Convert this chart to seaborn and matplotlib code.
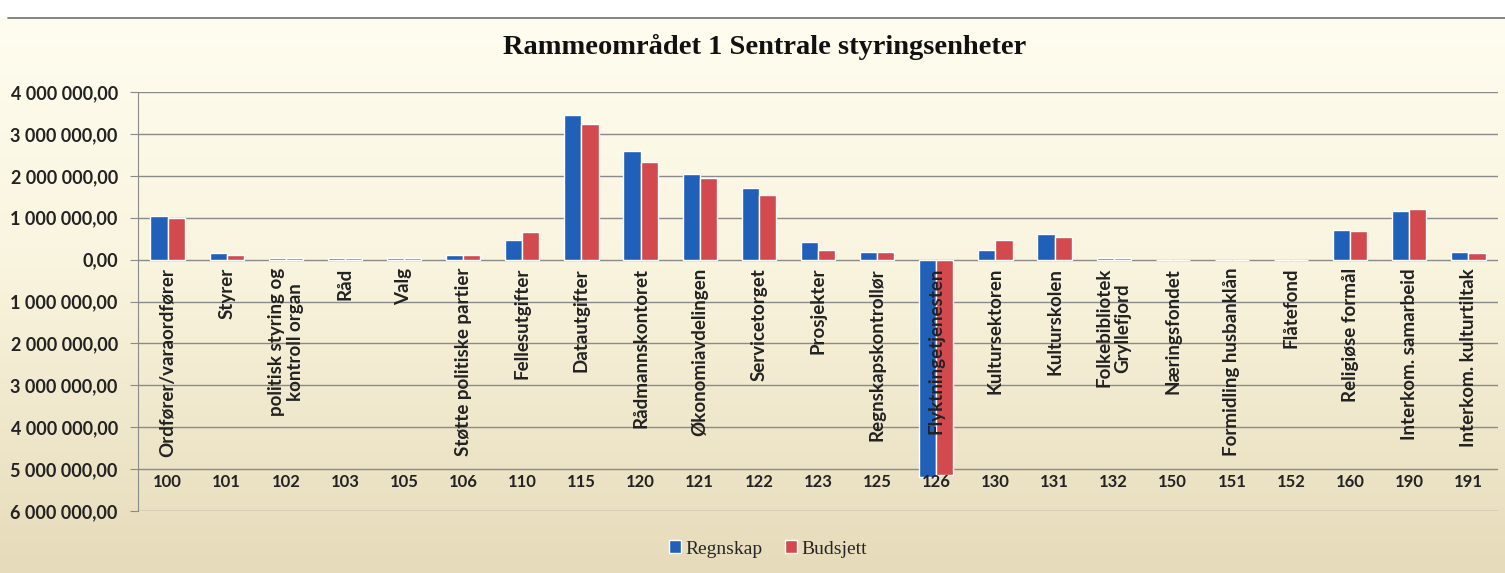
import numpy as np
import pandas as pd
import seaborn as sns
import matplotlib.pyplot as plt
from matplotlib.patches import Patch

# Data (NOK)
codes = ["100", "101", "102", "103", "105", "106", "110", "115", "120", "121",
         "122", "123", "125", "126", "130", "131", "132", "150", "151", "152",
         "160", "190", "191"]
names = ["Ordfører/varaordfører", "Styrer", "politisk styring og\nkontroll organ",
         "Råd", "Valg", "Støtte politiske partier", "Fellesutgifter", "Datautgifter",
         "Rådmannskontoret", "Økonomiavdelingen", "Servicetorget", "Prosjekter",
         "Regnskapskontrollør", "Flyktningetjenesten", "Kultursektoren", "Kulturskolen",
         "Folkebibliotek\nGryllefjord", "Næringsfondet", "Formidling husbanklån",
         "Flåtefond", "Religiøse formål", "Interkom. samarbeid", "Interkom. kulturtiltak"]
regnskap = [1030000, 150000, 30000, 30000, 50000, 110000, 460000, 3460000, 2580000,
            2050000, 1710000, 410000, 180000, -5180000, 220000, 620000, 40000, 0, 0, 0,
            700000, 1170000, 170000]
budsjett = [990000, 120000, 30000, 30000, 45000, 100000, 670000, 3230000, 2320000,
            1940000, 1550000, 240000, 170000, -5130000, 460000, 540000, 40000, 0, 0, 0,
            680000, 1200000, 160000]
series = ["Regnskap", "Budsjett"]
yticks = [4e6, 3e6, 2e6, 1e6, 0, -1e6, -2e6, -3e6, -4e6, -5e6, -6e6]

df = pd.DataFrame({
    "kode": codes * 2,
    "verdi": regnskap + budsjett,
    "serie": [series[0]] * len(codes) + [series[1]] * len(codes),
})

blue = "#2060b8"
red = "#d24a4e"

sns.set_style("white")
plt.rcParams["font.family"] = ["Lato", "DejaVu Sans"]

fig = plt.figure(figsize=(15.05, 5.73), dpi=100)

# scanned-paper style background: white margin, then cream -> beige gradient
bg = fig.add_axes([0, 0, 1, 1], zorder=-10)
bg.set_axis_off()
h = 573
top_c = np.array([255, 253, 240]) / 255
mid_c = np.array([249, 244, 222]) / 255
bot_c = np.array([230, 219, 186]) / 255
grad = np.ones((h, 1, 3))
for r in range(h):
    if r < 18:
        continue
    t = (r - 18) / (h - 18)
    if t < 0.45:
        c = top_c + (mid_c - top_c) * (t / 0.45)
    else:
        c = mid_c + (bot_c - mid_c) * ((t - 0.45) / 0.55)
    grad[r, 0] = c
bg.imshow(grad, aspect="auto", extent=[0, 1, 0, 1], origin="upper")
bg.plot([0.005, 1], [1 - 18 / h, 1 - 18 / h], color="#707070", lw=1.2)
bg.set_xlim(0, 1)
bg.set_ylim(0, 1)

ax = fig.add_axes([138 / 1505, 1 - 511 / 573, 1360 / 1505, (511 - 92) / 573])
ax.set_facecolor("none")

sns.barplot(data=df, x="kode", y="verdi", hue="serie", order=codes,
            hue_order=series, palette=[blue, red], width=0.58, ax=ax,
            legend=False, saturation=1, zorder=2)

ax.set_ylim(-6e6, 4e6)
ax.set_xlim(-0.5, len(codes) - 0.5)
ax.set_yticks(yticks)
ax.set_yticklabels([f"{abs(v):,.2f}".replace(",", " ").replace(".", ",")
                    for v in yticks], fontsize=13, fontweight="bold", color="#222222")
for v in yticks:
    ax.axhline(v, color="#8a8a8a", lw=1, zorder=1)
ax.set_xticks([])
ax.set_xlabel("")
ax.set_ylabel("")
for s in ["top", "right", "bottom"]:
    ax.spines[s].set_visible(False)
ax.spines["left"].set_color("#8a8a8a")
ax.tick_params(axis="y", length=6, color="#8a8a8a", pad=8.5, left=True)

for i, (c, n) in enumerate(zip(codes, names)):
    ax.text(i, -0.2e6, n, rotation=90, ha="center", va="top", ma="center",
            fontsize=13.5, fontweight="bold", color="#222222", zorder=5,
            linespacing=1.15)
    ax.text(i, -5.3e6, c, ha="center", va="center", fontsize=12,
            fontweight="bold", color="#222222")

fig.text(765 / 1505, 1 - 47 / 573, "Rammeområdet 1 Sentrale styringsenheter",
         ha="center", va="center", fontsize=20.5, fontweight="bold",
         family="Liberation Serif", color="#111111")

handles = [Patch(facecolor=blue), Patch(facecolor=red)]
fig.legend(handles, series, loc="center", bbox_to_anchor=(768 / 1505, 1 - 549 / 573),
           ncol=2, frameon=False, handlelength=0.6, handleheight=0.6,
           handletextpad=0.2, columnspacing=1.2,
           prop={"family": "Liberation Serif", "size": 14})

fig.savefig("out.png", dpi=100)
